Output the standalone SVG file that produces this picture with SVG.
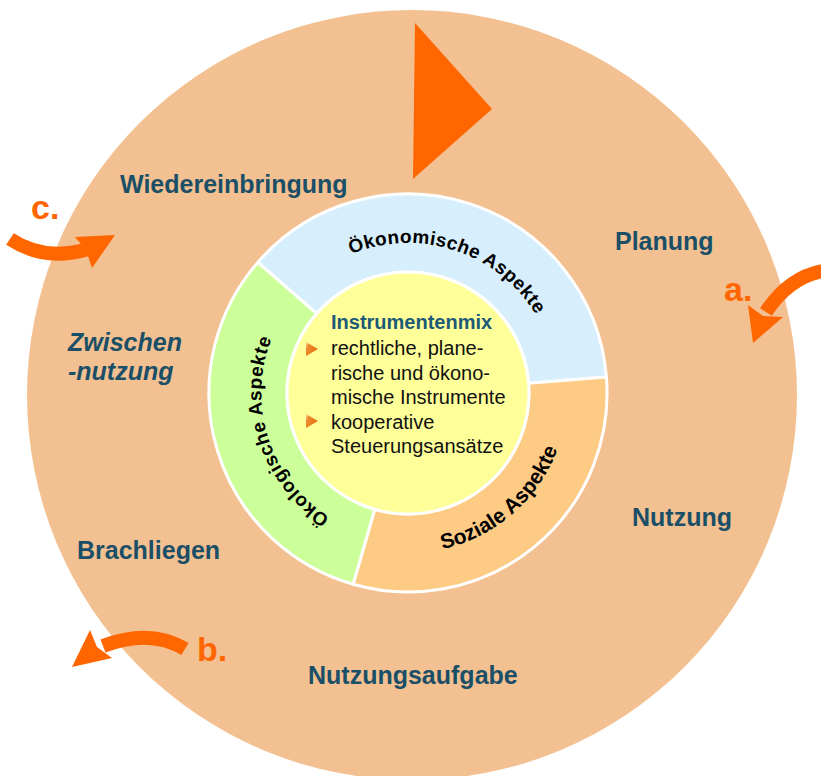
<svg xmlns="http://www.w3.org/2000/svg" width="821" height="776" viewBox="0 0 821 776">
  <style>
    .lbl { font-family: "Liberation Sans", Arial, sans-serif; font-weight: bold; font-size: 25px; fill: #1B4F67; }
    .ital { font-style: italic; }
    .mark { font-family: "Liberation Sans", Arial, sans-serif; font-weight: bold; font-size: 34px; fill: #FF6600; }
    .ring { stroke: #FFFFFF; stroke-width: 3; stroke-linejoin: round; }
    .rtxt { font-family: "Liberation Sans", Arial, sans-serif; font-weight: bold; font-size: 19px; fill: #000000; letter-spacing: 0.4px; }
    .ctr { font-family: "Liberation Sans", Arial, sans-serif; font-size: 20px; fill: #111111; }
    .ctrh { font-family: "Liberation Sans", Arial, sans-serif; font-size: 20px; font-weight: bold; fill: #1D5A78; }
    .shaft { fill: none; stroke: #FF6600; stroke-width: 14; }
    .head { fill: #FF6600; }
  </style>
  <defs>
    <linearGradient id="bulletGrad" x1="0" y1="0" x2="1" y2="0.5">
      <stop offset="0" stop-color="#FFE8CC"/>
      <stop offset="0.25" stop-color="#EE8A2C"/>
      <stop offset="1" stop-color="#E07214"/>
    </linearGradient>
    <path id="arcTop" d="M 270.1 333.9 A 150 150 0 0 1 554.0 427.3"/>
    <path id="arcLeft" d="M 441.1 536.2 A 147 147 0 0 1 350.6 257.7"/>
    <path id="arcRight" d="M 296.8 508.1 A 160 160 0 0 0 537.4 299.0"/>
  </defs>

  <g id="cycle">
    <circle cx="412" cy="395" r="385" fill="#F3C191"/>
  </g>

  <g id="oekonomische">
    <path class="ring" fill="#D7EEFC" d="M 257.8 262.4 A 199 199 0 0 1 606.4 377.0 L 528.6 383.3 A 121 121 0 0 0 316.7 313.6 Z"/>
    <text class="rtxt"><textPath href="#arcTop" startOffset="50%" text-anchor="middle">Ökonomische Aspekte</textPath></text>
  </g>
  <g id="soziale">
    <path class="ring" fill="#FECB85" d="M 606.4 377.0 A 199 199 0 0 1 353.1 584.3 L 374.7 509.3 A 121 121 0 0 0 528.6 383.3 Z"/>
    <text class="rtxt" style="font-size:21px;letter-spacing:0px"><textPath href="#arcRight" startOffset="50%" text-anchor="middle">Soziale Aspekte</textPath></text>
  </g>
  <g id="oekologische">
    <path class="ring" fill="#CCFF99" d="M 353.1 584.3 A 199 199 0 0 1 257.8 262.4 L 316.7 313.6 A 121 121 0 0 0 374.7 509.3 Z"/>
    <text class="rtxt" style="letter-spacing:0.6px"><textPath href="#arcLeft" startOffset="50%" text-anchor="middle">Ökologische Aspekte</textPath></text>
  </g>

  <g id="instrumentenmix">
    <circle cx="408" cy="393" r="121" fill="#FFFF99" stroke="#FFFFFF" stroke-width="3"/>
    <text class="ctrh" x="331" y="329">Instrumentenmix</text>
    <polygon points="306,342 318,349 306,356" fill="url(#bulletGrad)"/>
    <text class="ctr" x="331" y="355">rechtliche, plane-</text>
    <text class="ctr" x="331" y="380">rische und ökono-</text>
    <text class="ctr" x="331" y="404">mische Instrumente</text>
    <polygon points="306,414 318,421 306,428" fill="url(#bulletGrad)"/>
    <text class="ctr" x="331" y="429">kooperative</text>
    <text class="ctr" x="331" y="453">Steuerungsansätze</text>
  </g>

  <g id="label-wiedereinbringung"><text class="lbl" x="120" y="193">Wiedereinbringung</text></g>
  <g id="label-planung"><text class="lbl" x="615" y="250">Planung</text></g>
  <g id="label-zwischennutzung">
    <text class="lbl ital" x="68" y="351">Zwischen</text>
    <text class="lbl ital" x="68" y="380">-nutzung</text>
  </g>
  <g id="label-nutzung"><text class="lbl" x="632" y="526">Nutzung</text></g>
  <g id="label-brachliegen"><text class="lbl" x="77" y="559">Brachliegen</text></g>
  <g id="label-nutzungsaufgabe"><text class="lbl" x="308" y="684">Nutzungsaufgabe</text></g>

  <g id="label-a"><text class="mark" x="724" y="301">a.</text></g>
  <g id="label-b"><text class="mark" x="197" y="661">b.</text></g>
  <g id="label-c"><text class="mark" x="31" y="219">c.</text></g>

  <g id="connectors">
    <polygon class="head" points="415,23 492,109 413,179"/>
    <path class="shaft" d="M 10 239 Q 45 262 88 249"/>
    <polygon class="head" points="75,237 115,235 92,268 86,250"/>
    <path class="shaft" d="M 822 271 Q 788 278 766 312"/>
    <polygon class="head" points="748,305 763,316 783,317 753,343"/>
    <path class="shaft" d="M 185 649 Q 150 628 103 646"/>
    <polygon class="head" points="90,630 97,647 112,658 72,667"/>
  </g>
</svg>
